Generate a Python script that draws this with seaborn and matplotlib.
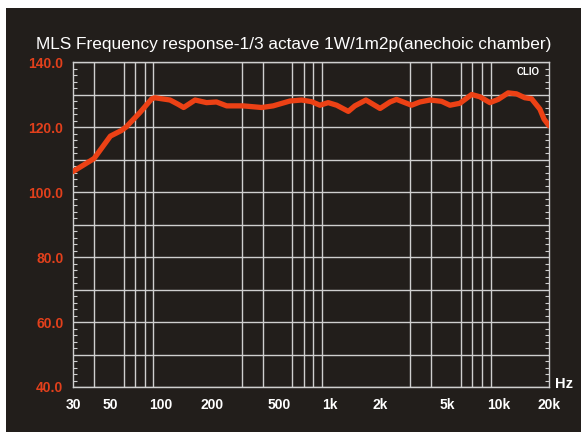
import numpy as np
import pandas as pd
import matplotlib
matplotlib.use("Agg")
import matplotlib.pyplot as plt
import seaborn as sns
from matplotlib.patches import Rectangle

# 1/3 octave response
freqs = [30, 40, 50, 58, 62, 75, 88, 92, 113, 126, 136, 159, 186, 213, 245,
         307, 395, 462, 581, 681, 781, 875, 980, 1100, 1290, 1410, 1640, 1990,
         2280, 2490, 3060, 3430, 3930, 4610, 5170, 5920, 6950, 7780, 8920,
         10000, 11450, 12830, 14380, 15750, 17660, 18700, 20000]
levels = [106.3, 110.3, 117.2, 118.9, 120.0, 124.5, 128.7, 129.0, 128.3, 127.0,
          126.0, 128.3, 127.5, 127.7, 126.5, 126.5, 126.0, 126.5, 128.0, 128.3,
          127.8, 126.7, 127.5, 126.7, 124.8, 126.5, 128.3, 125.7, 127.7, 128.5,
          126.7, 127.7, 128.3, 127.9, 126.7, 127.3, 130.0, 129.3, 127.5, 128.5,
          130.5, 130.2, 129.0, 128.7, 125.5, 122.4, 120.4]

x_tick_vals = [30, 50, 100, 200, 500, 1000, 2000, 5000, 10000, 20000]
x_tick_labels = ["30", "50", "100", "200", "500", "1k", "2k", "5k", "10k", "20k"]
y_tick_vals = [40, 60, 80, 100, 120, 140]

title = "MLS Frequency response-1/3 actave 1W/1m2p(anechoic chamber)"

df = pd.DataFrame({"freq": freqs, "spl": levels})

sns.set_style("ticks")
plt.rcParams['font.family'] = ['Liberation Sans', 'DejaVu Sans']

bg = "#221e1b"
grid_c = "#cfcfcf"
red = "#ec4115"
label_red = "#e2401c"

fig = plt.figure(figsize=(5.81, 4.32), dpi=100, facecolor="white")
fig.patches.append(Rectangle((6 / 581, 0), 1, 1 - 8 / 432, transform=fig.transFigure,
                             facecolor=bg, edgecolor="none", zorder=-5))
ax = fig.add_axes([73 / 581, 1 - 387 / 432, 476 / 581, 325 / 432])
ax.set_facecolor(bg)

sns.lineplot(data=df, x="freq", y="spl", ax=ax, color=red, linewidth=3.8,
             solid_capstyle="round", solid_joinstyle="round", zorder=3)

ax.set_xscale("log")
ax.set_xlim(30, 20000)
ax.set_ylim(40, 140)

# vertical grid on every log subdivision
grid_x = [m * 10 ** e for e in range(1, 5) for m in range(1, 10)]
grid_x = [g for g in grid_x if 30 < g < 20000]
ax.set_xticks(grid_x, minor=True)
ax.set_xticks(x_tick_vals)
ax.set_xticklabels(x_tick_labels)
ax.tick_params(axis="x", which="both", length=0, pad=8, colors="white",
               labelsize=10)
for lab in ax.get_xticklabels():
    lab.set_fontweight("bold")
ax.grid(which="minor", axis="x", color=grid_c, linewidth=1.0)

# horizontal grid every 10 dB, labels every 20 dB
ax.set_yticks(range(40, 141, 10))
ax.set_yticklabels([f"{v:.1f}" if v in y_tick_vals else "" for v in range(40, 141, 10)])
ax.set_yticks(range(40, 141, 2), minor=True)
ax.tick_params(axis="y", which="major", length=0, pad=7, labelcolor=label_red,
               labelsize=10)
ax.tick_params(axis="y", which="minor", direction="in", length=3, width=0.8,
               color=grid_c, left=True, right=True)
for lab in ax.get_yticklabels():
    lab.set_fontweight("bold")
ax.grid(which="major", axis="y", color=grid_c, linewidth=1.0)

for s in ax.spines.values():
    s.set_color(grid_c)
    s.set_linewidth(1.0)

ax.set_xlabel("")
ax.set_ylabel("")

ax.text(0.981, 0.985, "CLIO", transform=ax.transAxes, color="white",
        fontsize=7, fontweight="bold", ha="right", va="top")
fig.text(564 / 581, 1 - 384 / 432, "Hz", color="white", fontsize=10.5,
         fontweight="bold", ha="center", va="center")
fig.text(294 / 581, 1 - 45 / 432, title, color="white", fontsize=12.4,
         ha="center", va="center")

fig.savefig("out.png", dpi=100, facecolor=fig.get_facecolor())
